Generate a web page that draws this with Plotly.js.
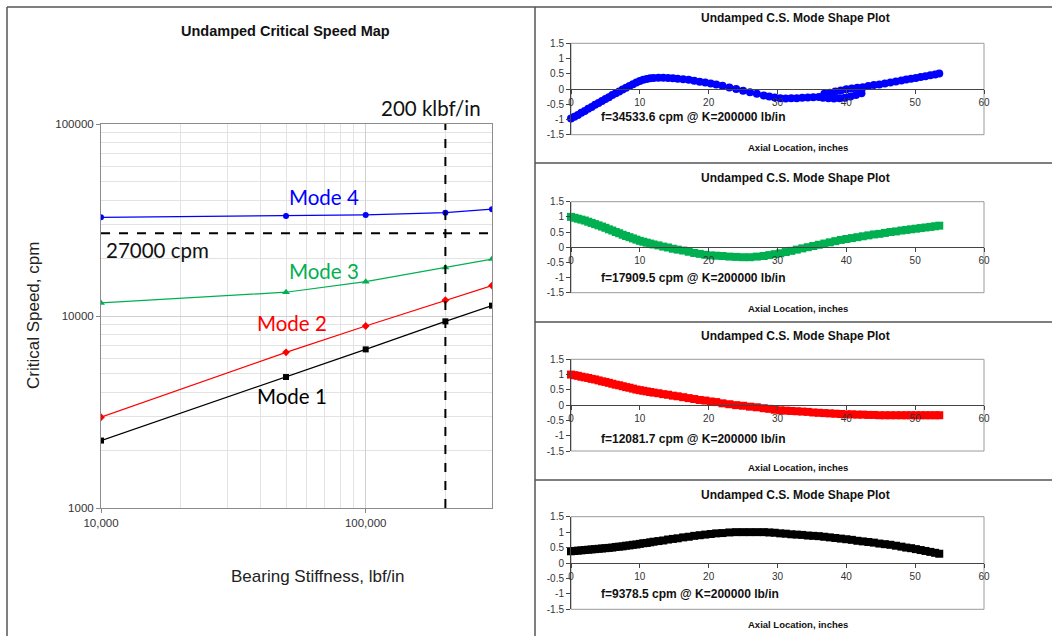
<!DOCTYPE html>
<html>
<head>
<meta charset="utf-8">
<script src="https://cdn.plot.ly/plotly-3.0.1.min.js"></script>
<style>html,body{margin:0;padding:0;background:#fff}#chart{width:1052px;height:636px}</style>
</head>
<body>
<div id="chart"></div>
<script>
// ---------- Critical speed map data ----------
const stiffness = [10000, 50000, 100000, 200000, 300000];
const mode1 = [2245, 4810, 6700, 9378.5, 11320];
const mode2 = [2970, 6470, 8870, 12081.7, 14400];
const mode3 = [11700, 13300, 15100, 17909.5, 19800];
const mode4 = [32650, 33200, 33600, 34533.6, 36000];
const modeNames = ["Mode 1", "Mode 2", "Mode 3", "Mode 4"];
const speedLimit = 27000;          // cpm
const designStiffness = 200000;    // lbf/in
const yTickVals = [1000, 10000, 100000];
const yTickText = ["1000", "10000", "100000"];
const xTickVals = [10000, 100000];
const xTickText = ["10,000", "100,000"];

// ---------- Mode shape data (axial stations, inches) ----------
const axialLoc = [0,0.5,1,1.5,2,2.5,3,3.5,4,4.5,5,5.5,6,6.5,7,7.5,8,8.5,9,9.5,10,10.5,11,11.5,12,
  12.7,13.4,14.1,14.8,15.5,16.3,17.1,17.9,18.7,19.5,20.3,21.1,22,23,24,25,26,27,28,
  28.8,29.6,30.4,31.2,32,32.8,33.6,34.4,35.2,36,36.8,37.6,38.4,39.2,40,40.8,41.6,42.4,43.2,44,44.8,45.6,46.4,47.2,48,
  48.7,49.4,50.1,50.8,51.5,52.2,52.9,53.5];
const shape4 = [-0.97,-0.91,-0.85,-0.78,-0.72,-0.65,-0.59,-0.52,-0.46,-0.39,-0.33,-0.27,-0.2,-0.14,-0.08,-0.02,0.04,0.1,0.16,0.21,0.26,0.3,0.33,0.35,0.36,
  0.37,0.37,0.36,0.35,0.34,0.32,0.3,0.27,0.24,0.21,0.18,0.15,0.11,0.05,0.0,-0.06,-0.11,-0.16,-0.21,
  -0.25,-0.28,-0.3,-0.31,-0.3,-0.3,-0.29,-0.28,-0.27,-0.26,-0.16,-0.12,-0.08,-0.05,-0.01,0.02,0.04,0.06,0.1,0.13,0.15,0.18,0.21,0.25,0.28,
  0.31,0.34,0.36,0.39,0.42,0.45,0.48,0.51];
const branchLoc = [36.6,37.4,38.2,39,39.8,40.6,41.4,42.2];
const shape4Branch = [-0.29,-0.3,-0.31,-0.3,-0.29,-0.25,-0.2,-0.14];
const shape3 = [1.0,0.97,0.94,0.91,0.88,0.84,0.8,0.76,0.72,0.68,0.64,0.59,0.55,0.5,0.46,0.41,0.37,0.33,0.29,0.25,0.21,0.18,0.15,0.12,0.09,
  0.06,0.02,-0.01,-0.05,-0.08,-0.11,-0.15,-0.19,-0.22,-0.25,-0.27,-0.28,-0.29,-0.31,-0.32,-0.33,-0.33,-0.31,-0.29,
  -0.26,-0.23,-0.2,-0.16,-0.12,-0.08,-0.04,0.0,0.04,0.08,0.12,0.16,0.2,0.24,0.27,0.3,0.33,0.36,0.39,0.42,0.44,0.47,0.5,0.52,0.55,
  0.57,0.59,0.61,0.63,0.65,0.67,0.69,0.71];
const shape2 = [1.0,0.98,0.96,0.93,0.91,0.89,0.86,0.84,0.81,0.78,0.76,0.73,0.7,0.67,0.65,0.62,0.59,0.57,0.54,0.51,0.49,0.47,0.45,0.43,0.41,
  0.39,0.36,0.34,0.31,0.29,0.26,0.23,0.2,0.17,0.15,0.12,0.1,0.06,0.03,0.0,-0.02,-0.05,-0.07,-0.1,
  -0.12,-0.15,-0.17,-0.18,-0.19,-0.2,-0.21,-0.22,-0.24,-0.25,-0.26,-0.27,-0.28,-0.29,-0.3,-0.3,-0.31,-0.31,-0.32,-0.32,-0.33,-0.33,-0.33,-0.33,-0.33,
  -0.33,-0.33,-0.33,-0.33,-0.33,-0.33,-0.33,-0.33];
const shape1 = [0.38,0.39,0.4,0.41,0.42,0.43,0.44,0.45,0.46,0.47,0.48,0.49,0.5,0.52,0.53,0.54,0.56,0.57,0.59,0.6,0.62,0.64,0.65,0.67,0.69,
  0.71,0.73,0.76,0.78,0.8,0.83,0.85,0.88,0.9,0.92,0.94,0.96,0.97,0.99,1.0,1.0,1.0,1.0,1.0,
  0.99,0.98,0.96,0.95,0.93,0.92,0.91,0.89,0.88,0.87,0.85,0.83,0.81,0.79,0.77,0.75,0.72,0.7,0.68,0.66,0.63,0.61,0.59,0.56,0.53,
  0.5,0.48,0.45,0.42,0.39,0.36,0.33,0.3];
const shapeFreq = ["34533.6", "17909.5", "12081.7", "9378.5"];
const shapeTickVals = [-1.5,-1,-0.5,0,0.5,1,1.5];

// ---------- layout helpers ----------
const W = 1052, H = 636;
const px = x => x / W;
const py = y => 1 - y / H;
const AR = "Liberation Sans, Arial, sans-serif";
const CAL = "Lato, Carlito, Calibri, sans-serif";
const BLUE = "#0000FF", GREEN = "#00B050", RED = "#FF0000", BLACK = "#000000";

const traces = [];
// left chart traces
const leftSeries = [
  {y: mode1, c: BLACK, s: "square", sz: 6},
  {y: mode2, c: RED, s: "diamond", sz: 6},
  {y: mode3, c: GREEN, s: "triangle-up", sz: 7},
  {y: mode4, c: BLUE, s: "circle", sz: 6}
];
leftSeries.forEach((d, i) => traces.push({
  x: stiffness, y: d.y, name: modeNames[i], type: "scatter", mode: "lines+markers",
  line: {color: d.c, width: 1.2}, marker: {color: d.c, symbol: d.s, size: d.sz},
  xaxis: "x", yaxis: "y", showlegend: false, hoverinfo: "skip"
}));
// reference lines
traces.push({x: [stiffness[0], stiffness[stiffness.length - 1]], y: [speedLimit, speedLimit],
  type: "scatter", mode: "lines", line: {color: BLACK, width: 2, dash: "dash"},
  xaxis: "x", yaxis: "y", showlegend: false, hoverinfo: "skip", cliponaxis: false});
traces.push({x: [designStiffness, designStiffness], y: [yTickVals[0], yTickVals[2]],
  type: "scatter", mode: "lines", line: {color: BLACK, width: 2, dash: "dash"},
  xaxis: "x", yaxis: "y", showlegend: false, hoverinfo: "skip", cliponaxis: false});

// right panels
const panels = [
  {y: shape4, c: BLUE, s: "circle", top: 43.3, bot: 134.7, title: 18, ann: 117, ax: 148},
  {y: shape3, c: GREEN, s: "square", top: 201.7, bot: 292.7, title: 178, ann: 278, ax: 308},
  {y: shape2, c: RED, s: "square", top: 359.3, bot: 451, title: 336, ann: 439, ax: 467},
  {y: shape1, c: BLACK, s: "square", top: 516.7, bot: 609.3, title: 495, ann: 594, ax: 624}
];
const layout = {
  width: W, height: H, margin: {l: 0, r: 0, t: 0, b: 0},
  paper_bgcolor: "#fff", plot_bgcolor: "#fff", showlegend: false, hovermode: false,
  font: {family: AR, color: "#222"},
  xaxis: {type: "log", domain: [px(101), px(492)], anchor: "y", range: [4, Math.log10(300000)],
    tickvals: xTickVals, ticktext: xTickText, tickfont: {size: 11.5, color: "#333"},
    ticks: "outside", ticklen: 4, tickcolor: "#888",
    showgrid: true, gridcolor: "#d0d0d0", gridwidth: 1,
    minor: {dtick: "D1", showgrid: true, gridcolor: "#e3e3e3", gridwidth: 1, ticks: ""},
    showline: true, linecolor: "#8c8c8c", linewidth: 1, mirror: true, zeroline: false},
  yaxis: {type: "log", domain: [py(508), py(124)], anchor: "x", range: [3, 5],
    tickvals: yTickVals, ticktext: yTickText, tickfont: {size: 11.5, color: "#333"},
    ticks: "outside", ticklen: 4, tickcolor: "#888",
    showgrid: true, gridcolor: "#d0d0d0", gridwidth: 1,
    minor: {dtick: "D1", showgrid: true, gridcolor: "#e3e3e3", gridwidth: 1, ticks: ""},
    showline: true, linecolor: "#8c8c8c", linewidth: 1, mirror: true, zeroline: false},
  annotations: [], shapes: []
};

panels.forEach((p, i) => {
  const n = i + 2;
  const xa = "x" + n, ya = "y" + n;
  const yd = [py(p.bot), py(p.top)];
  traces.push({x: axialLoc, y: p.y, type: "scatter", mode: "markers",
    marker: {color: p.c, symbol: p.s, size: 8, line: {width: 0}},
    xaxis: xa, yaxis: ya, showlegend: false, hoverinfo: "skip", cliponaxis: false});
  if (i === 0) {
    traces.push({x: branchLoc, y: shape4Branch, type: "scatter", mode: "markers",
      marker: {color: p.c, symbol: p.s, size: 8, line: {width: 0}},
      xaxis: xa, yaxis: ya, showlegend: false, hoverinfo: "skip", cliponaxis: false});
  }
  layout["xaxis" + n] = {domain: [px(571), px(984)], anchor: "free", position: (yd[0] + yd[1]) / 2,
    range: [0, 60], dtick: 10, tick0: 0, ticks: "outside", ticklen: 4, tickcolor: "#444",
    tickfont: {size: 10, color: "#333"}, showline: true, linecolor: "#444", linewidth: 1,
    showgrid: false, zeroline: false};
  layout["yaxis" + n] = {domain: yd, anchor: xa, range: [-1.5, 1.5], tickvals: shapeTickVals,
    ticktext: shapeTickVals.map(v => String(v)),
    ticks: "outside", ticklen: 4, tickcolor: "#444", tickfont: {size: 10, color: "#333"},
    showline: true, linecolor: "#444", linewidth: 1, showgrid: false, zeroline: false};
  layout.shapes.push({type: "rect", xref: xa + " domain", yref: ya + " domain", x0: 0, x1: 1, y0: 0, y1: 1,
    line: {color: "#9a9a9a", width: 1}, layer: "below"});
  layout.annotations.push({text: "<b>Undamped C.S. Mode Shape Plot</b>", xref: "paper", yref: "paper",
    x: px(795), y: py(p.title), showarrow: false, font: {size: 12, family: AR, color: "#111"}, xanchor: "center", yanchor: "middle"});
  layout.annotations.push({text: "<b>f=" + shapeFreq[i] + " cpm @ K=200000 lb/in</b>", xref: "paper", yref: "paper",
    x: px(599), y: py(p.ann), showarrow: false, font: {size: 12, family: AR, color: "#111"}, xanchor: "left", yanchor: "middle"});
  layout.annotations.push({text: "<b>Axial Location, inches</b>", xref: "paper", yref: "paper",
    x: px(798), y: py(p.ax), showarrow: false, font: {size: 9.5, family: AR, color: "#111"}, xanchor: "center", yanchor: "middle"});
});

// left chart text
const leftAnn = [
  {t: "<b>Undamped Critical Speed Map</b>", x: 285, y: 31, f: AR, s: 14.5, c: "#111", a: "center"},
  {t: "Critical Speed, cpm", x: 33, y: 316, f: AR, s: 17, c: "#222", a: "center", ang: -90},
  {t: "Bearing Stiffness, lbf/in", x: 318, y: 576, f: AR, s: 17, c: "#222", a: "center"},
  {t: "200 klbf/in", x: 431, y: 108, f: CAL, s: 20.5, c: "#111", a: "center"},
  {t: "27000 cpm", x: 104, y: 250, f: CAL, s: 20.5, c: "#111", a: "left"},
  {t: "Mode 4", x: 324, y: 197, f: CAL, s: 20.5, c: BLUE, a: "center"},
  {t: "Mode 3", x: 324, y: 271, f: CAL, s: 20.5, c: GREEN, a: "center"},
  {t: "Mode 2", x: 292, y: 323, f: CAL, s: 20.5, c: RED, a: "center"},
  {t: "Mode 1", x: 292, y: 396, f: CAL, s: 20.5, c: BLACK, a: "center"}
];
leftAnn.forEach(a => layout.annotations.push({text: a.t, xref: "paper", yref: "paper", x: px(a.x), y: py(a.y),
  showarrow: false, xanchor: a.a, yanchor: "middle", textangle: a.ang || 0, font: {family: a.f, size: a.s, color: a.c}}));

// frame lines
const frameColor = "#555";
[
  [7, 7, 1052, 7], [7, 7, 7, 636], [535, 7, 535, 636],
  [535, 163, 1052, 163], [535, 322, 1052, 322], [535, 480, 1052, 480]
].forEach(l => layout.shapes.push({type: "line", xref: "paper", yref: "paper",
  x0: px(l[0]), y0: py(l[1]), x1: px(l[2]), y1: py(l[3]), line: {color: frameColor, width: 1.5}}));

Plotly.newPlot("chart", traces, layout, {staticPlot: true, displayModeBar: false});
</script>
</body>
</html>
